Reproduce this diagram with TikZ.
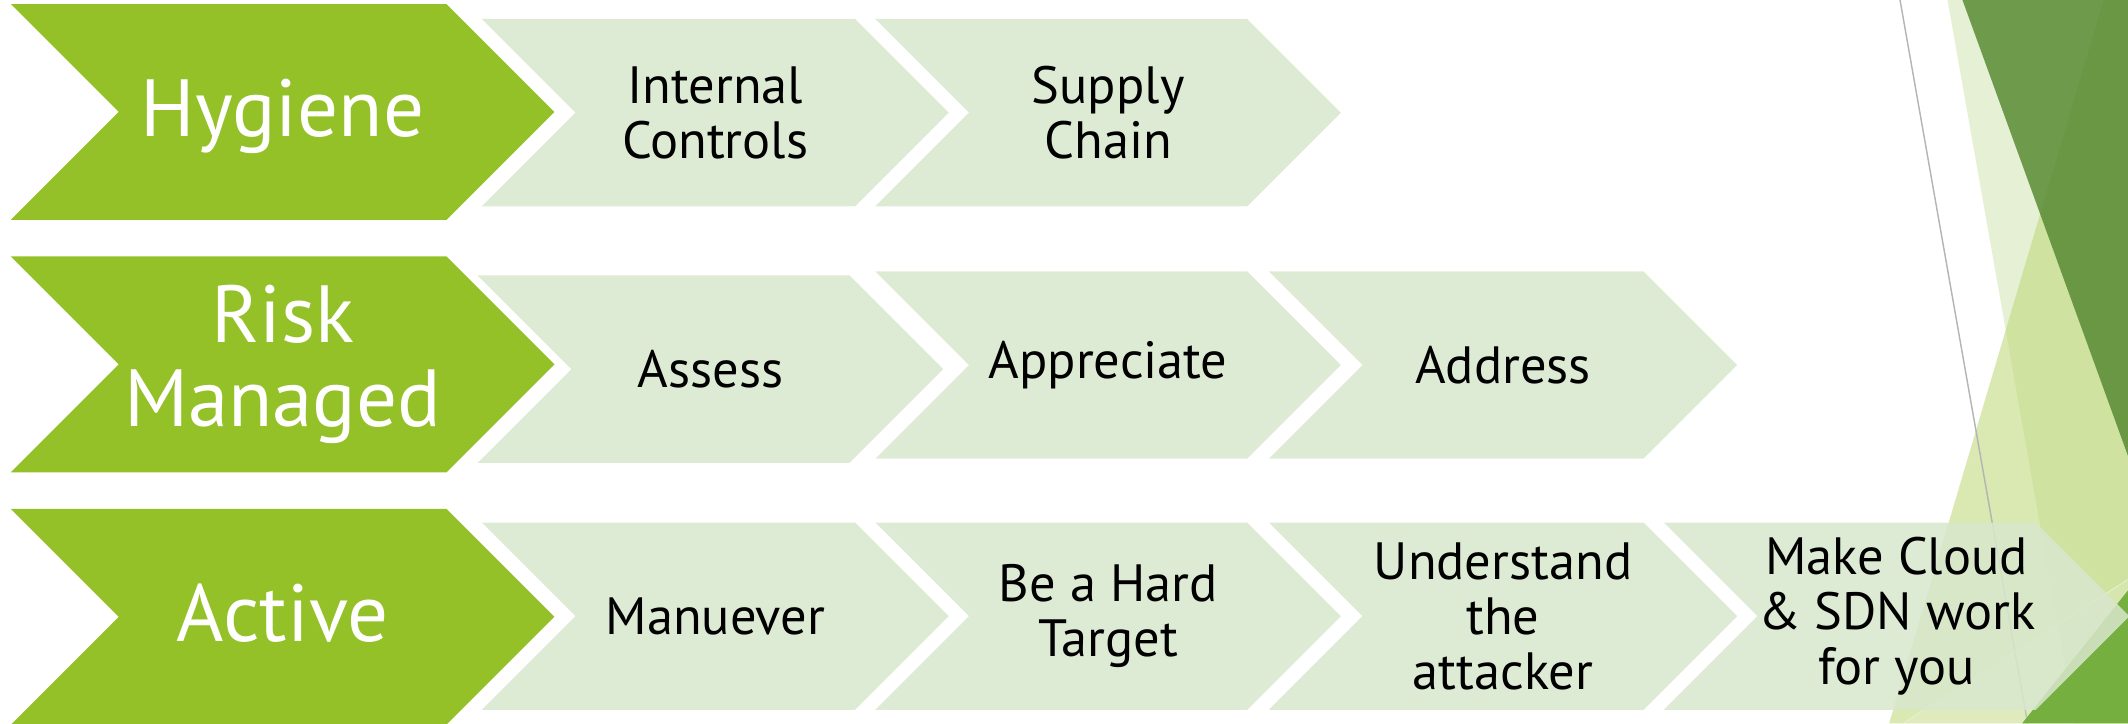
\documentclass[tikz,border=0pt]{standalone}
\usepackage{fontspec}
\setmainfont{PT Sans}

\definecolor{leafgreen}{RGB}{147,193,39}
\definecolor{palestep}{RGB}{216,231,205}
\definecolor{facetpale}{RGB}{230,240,213}
\definecolor{facetmid}{RGB}{193,217,125}
\definecolor{facetdark}{RGB}{89,139,53}
\definecolor{facetbright}{RGB}{116,175,64}
\definecolor{facetline}{RGB}{180,180,180}

\tikzset{
  stage/.style={fill=leafgreen},
  substage/.style={fill=palestep, fill opacity=0.85},
  stagetext/.style={text=white, align=center, font=\fontsize{34}{35}\selectfont},
  subtext/.style={text=black, align=center, font=\fontsize{22}{23}\selectfont},
  oneline/.style={text height=23.8pt, text depth=3.4pt},
}

% chevron: style, left, right, top, bottom (y runs downwards)
\newcommand{\chev}[5]{%
  \pgfmathsetmacro{\hh}{(#5-#4)/2}
  \fill[#1] (#2,#4) -- (#3,#4) -- (#3+\hh,#4+\hh) -- (#3,#5) -- (#2,#5) -- (#2+\hh,#4+\hh) -- cycle;}

\begin{document}
\begin{tikzpicture}[x=0.02cm,y=-0.02cm]
\useasboundingbox (0,0) rectangle (1568,533);

% facets on the right
\fill[facetpale] (1435,0) -- (1568,0) -- (1568,533) -- (1529,533) -- cycle;
\fill[facetmid, fill opacity=0.6] (1550,0) -- (1568,0) -- (1568,533) -- (1392,533) -- cycle;
\draw[facetline, line width=0.6pt] (1400,0) -- (1494,533);
\fill[facetdark, fill opacity=0.85] (1446,0) -- (1568,0) -- (1568,336) -- cycle;
\fill[white, fill opacity=0.15] (1402,533) -- (1568,427) -- (1568,533) -- cycle;
\draw[white!60!facetmid, line width=0.4pt] (1402,533) -- (1568,427);
\fill[facetbright] (1568,435) -- (1568,533) -- (1490,533) -- cycle;

% main stages
\foreach \nm/\L/\R/\T/\B/\st/\txt in {hyg/8/329/3/162/oneline/Hygiene,
    risk/8/329/189/348/{}/{Risk\\Managed},
    act/8/329/375/534/oneline/Active} {
  \chev{stage}{\L}{\R}{\T}{\B}
  \pgfmathsetmacro{\cx}{(\L+\R)/2+(\B-\T)/4}
  \pgfmathsetmacro{\cy}{(\T+\B)/2}
  \node[stagetext,\st] (\nm) at (\cx,\cy) {\txt};
}

% steps of each stage
\foreach \nm/\L/\R/\T/\B/\txt in {ic/355/630/14/152/{Internal\\Controls},
    sc/645/919/14/152/{Supply\\Chain},
    assess/352/626/203/341/Assess,
    appr/645/919/200/338/Appreciate,
    addr/935/1211/200/338/Address,
    man/355/630/385/523/Manuever,
    hard/645/919/385/523/{Be a Hard\\Target},
    undr/935/1211/385/523/{Understand\\the\\attacker},
    cloud/1226/1500/385/523/{Make Cloud\\\& SDN work\\for you}} {
  \chev{substage}{\L}{\R}{\T}{\B}
  \pgfmathsetmacro{\cx}{(\L+\R)/2+(\B-\T)/4}
  \pgfmathsetmacro{\cy}{(\T+\B)/2}
  \node[subtext] (\nm) at (\cx,\cy) {\txt};
}
\end{tikzpicture}
\end{document}
